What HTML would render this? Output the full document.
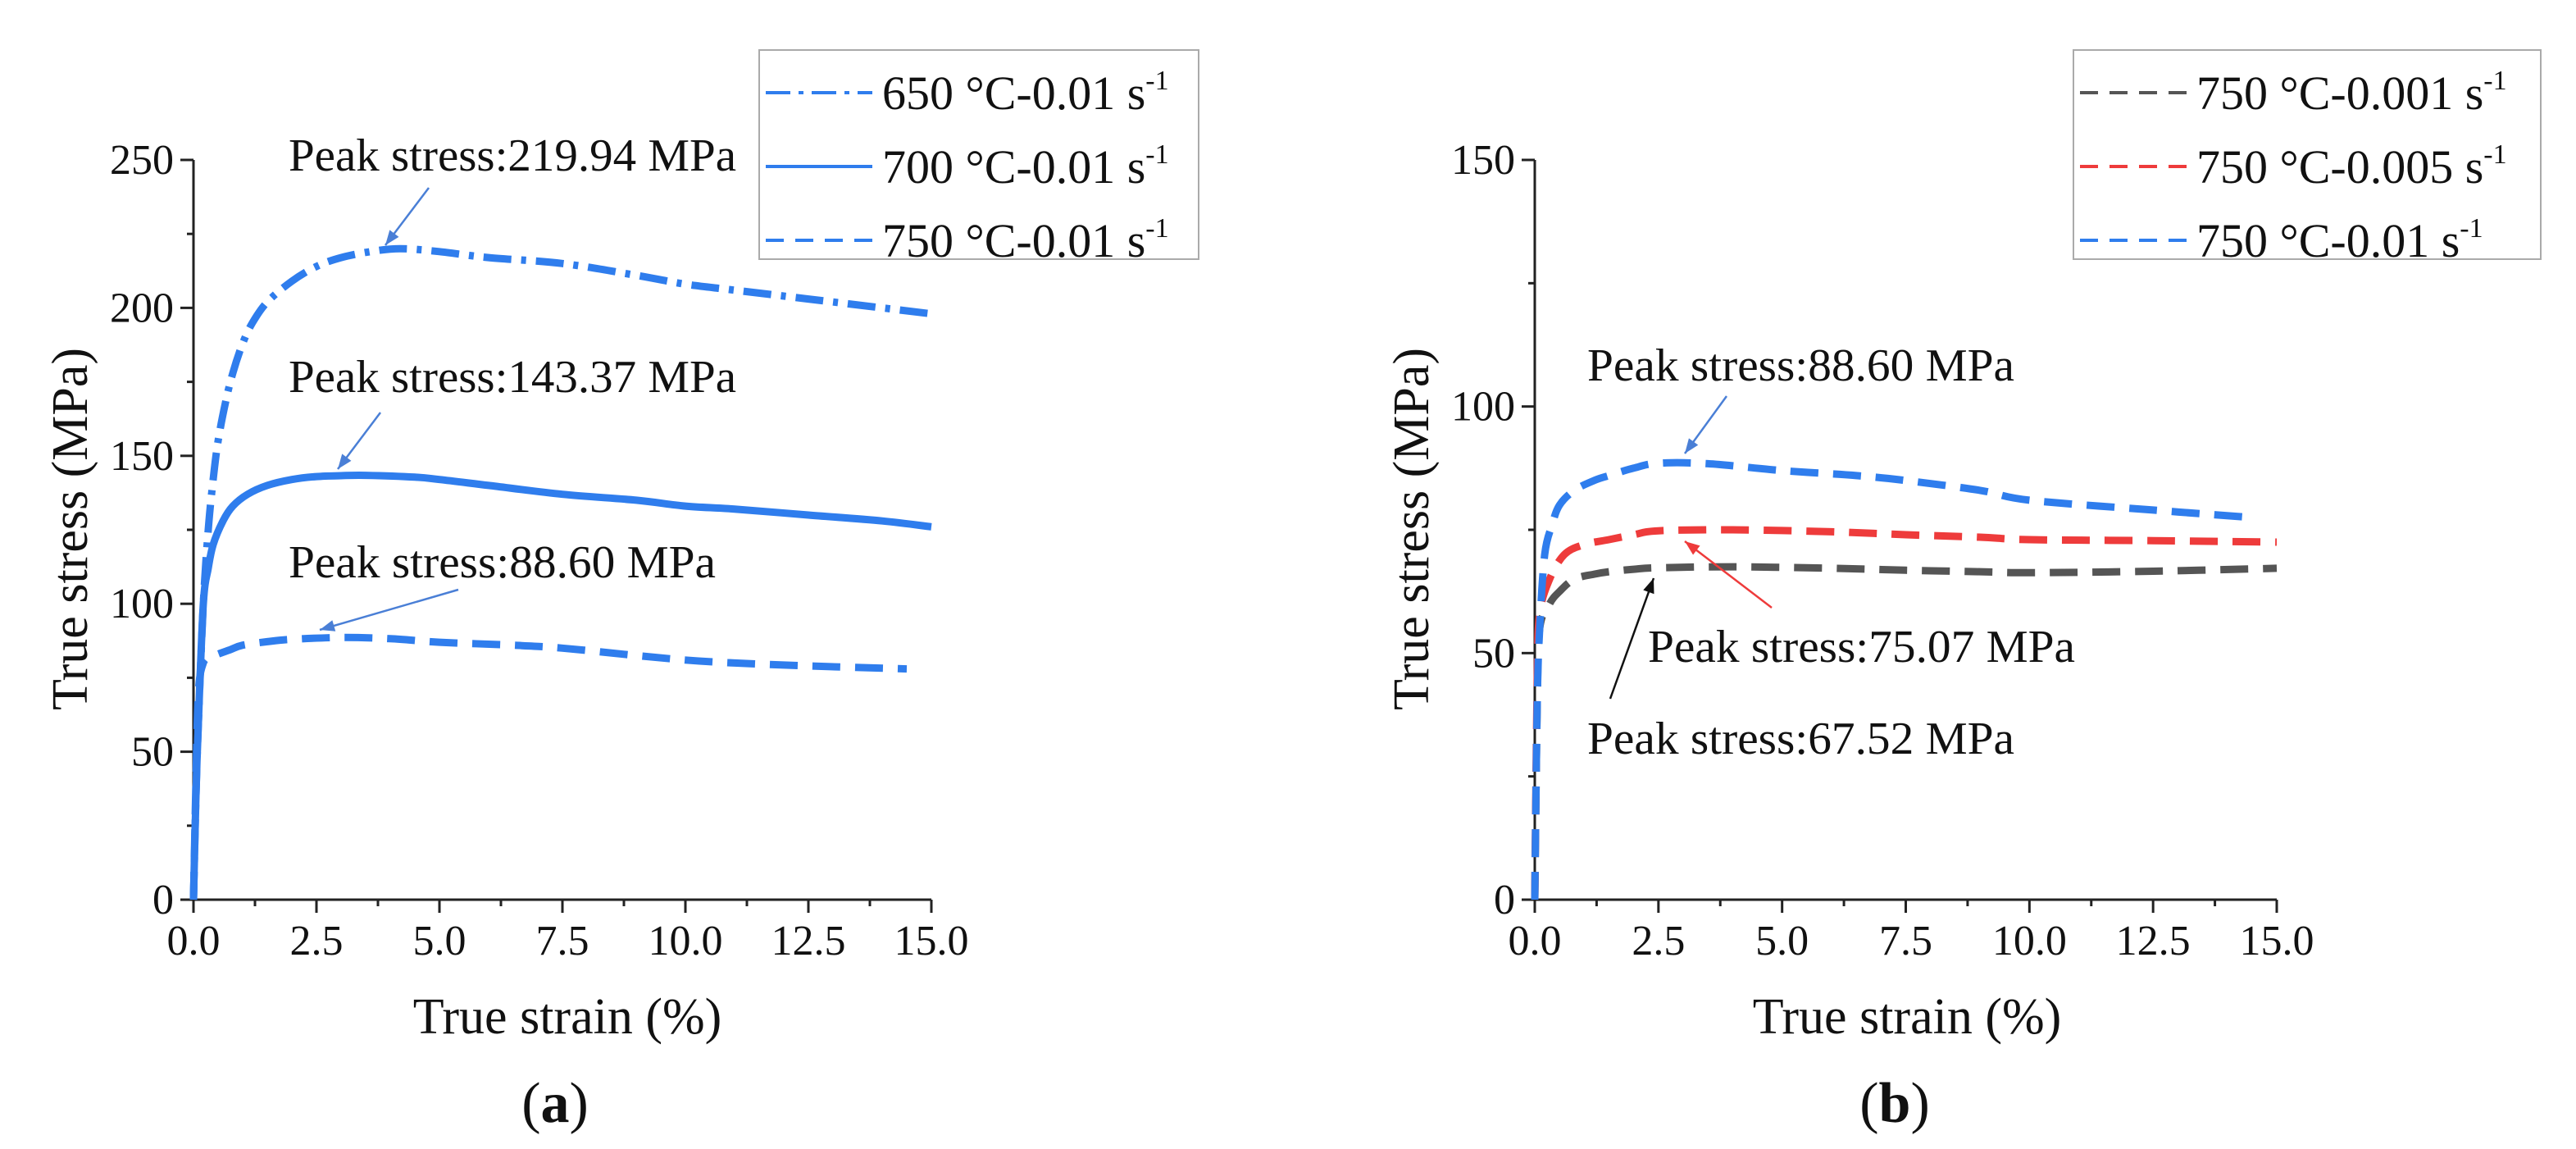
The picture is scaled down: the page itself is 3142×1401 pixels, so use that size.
<!DOCTYPE html>
<html><head><meta charset="utf-8"><style>
html,body{margin:0;padding:0;background:#fff;}
svg{display:block;}
text{font-family:"Liberation Serif","DejaVu Serif",serif;}
</style></head><body>
<svg id="fig" width="3142" height="1401" viewBox="0 0 3142 1401" xmlns="http://www.w3.org/2000/svg" font-family="Liberation Serif, serif">
<g id="pa"></g>
<g id="pb"></g>
</svg>
<script>
// ---- data: panel (a) ----
const strainA650 = [0,0.05,0.1,0.2,0.3,0.4,0.5,0.65,0.8,1,1.2,1.5,2,2.5,3,3.6,4.2,5,6,7.5,9,10,11,12.5,14,15];
const stressA650 = [0,35,60,100,125,142,155,168,178,188,195,202,209,214,217,219,220,219,217,215,211,208,206,203,200,198];
const strainA700 = [0,0.05,0.1,0.2,0.3,0.4,0.6,0.8,1.1,1.5,2,2.5,3,3.5,4.5,5,6,7.5,9,10,11,12.5,14,15];
const stressA700 = [0,35,60,100,112,120,128,133,137,140,142,143,143.3,143.4,142.8,142,140,137,135,133,132,130,128,126];
const strainA750 = [0,0.05,0.1,0.2,0.35,0.5,0.75,1,1.5,2,3,4,5,6.5,7.5,9,10,11,12.5,14.5];
const stressA750 = [0,40,70,80,82,83,84.5,86,87.2,88,88.6,88.2,87,86,85,82.5,81,80,79,78];
const yTicksA = [0,50,100,150,200,250];
// ---- data: panel (b) ----
const strainB001 = [0,0.05,0.1,0.3,0.5,0.8,1.2,1.5,2,2.5,4,6,7.5,9,10,12.5,15];
const stressB001 = [0,40,55,60,62.5,65,66,66.5,67,67.3,67.5,67.2,66.8,66.5,66.3,66.6,67.2];
const strainB005 = [0,0.05,0.1,0.3,0.6,1,1.5,2,2.5,4,6,7.5,9,10,12.5,15];
const stressB005 = [0,45,58,65,70,72,73,74,74.8,75,74.6,74,73.5,73,72.8,72.5];
const strainB01 = [0,0.05,0.1,0.2,0.35,0.5,0.8,1.2,1.5,2,2.5,3.5,5,6.5,7.5,9,10,12.5,14.5];
const stressB01 = [0,40,55,70,76,80,83,85,86,87.5,88.5,88.4,87,86,85,83,81,79,77.5];
const yTicksB = [0,50,100,150];
const xTicks = [0,2.5,5,7.5,10,12.5,15];
const xTickLabels = ["0.0","2.5","5.0","7.5","10.0","12.5","15.0"];

const NS="http://www.w3.org/2000/svg";
const FONT='"Liberation Serif", "DejaVu Serif", serif';
function mk(parent,tag,attrs,text){const e=document.createElementNS(NS,tag);for(const k in attrs)e.setAttribute(k,attrs[k]);if(tag==='text')e.setAttribute('font-family',FONT);if(text!==undefined)e.textContent=text;parent.appendChild(e);return e;}

function smoothPath(pts){
  let d='M'+pts[0][0].toFixed(1)+','+pts[0][1].toFixed(1);
  for(let i=0;i<pts.length-1;i++){
    const p0=pts[Math.max(0,i-1)],p1=pts[i],p2=pts[i+1],p3=pts[Math.min(pts.length-1,i+2)];
    const c1=[p1[0]+(p2[0]-p0[0])/6,p1[1]+(p2[1]-p0[1])/6];
    const c2=[p2[0]-(p3[0]-p1[0])/6,p2[1]-(p3[1]-p1[1])/6];
    d+=' C'+c1.map(v=>v.toFixed(1)).join(',')+' '+c2.map(v=>v.toFixed(1)).join(',')+' '+p2.map(v=>v.toFixed(1)).join(',');
  }
  return d;
}

function panel(g,x0,x1,y0,y1,ymax,yTicks){
  const sx=v=>x0+(v/15)*(x1-x0);
  const sy=v=>y0-(v/ymax)*(y0-y1);
  let e=mk(g,'line',{x1:x0,y1:y0,x2:x1,y2:y0,stroke:'#222','stroke-width':3});
  
  e=mk(g,'line',{x1:x0,y1:y0+1,x2:x0,y2:y1,stroke:'#222','stroke-width':3});
  
  xTicks.forEach((t,i)=>{
    const x=sx(t);
    e=mk(g,'line',{x1:x,y1:y0,x2:x,y2:y0+16,stroke:'#222','stroke-width':3});
    
    e=mk(g,'text',{x:x,y:1164,'font-size':52,'text-anchor':'middle',fill:'#111'},xTickLabels[i]);
    
    if(i<xTicks.length-1){const xm=sx(t+1.25);
      e=mk(g,'line',{x1:xm,y1:y0,x2:xm,y2:y0+8,stroke:'#222','stroke-width':3});
      }
  });
  yTicks.forEach((t,i)=>{
    const y=sy(t);
    e=mk(g,'line',{x1:x0-16,y1:y,x2:x0,y2:y,stroke:'#222','stroke-width':3});
    
    e=mk(g,'text',{x:x0-24,y:y+17,'font-size':52,'text-anchor':'end',fill:'#111'},String(t));
    
    if(i<yTicks.length-1){const ym=sy(t+25);
      e=mk(g,'line',{x1:x0-8,y1:ym,x2:x0,y2:ym,stroke:'#222','stroke-width':3});
      }
  });
  return {sx,sy};
}
function series(g,ax,xs,ys,color,dash,name){
  const pts=xs.map((x,i)=>[ax.sx(x),ax.sy(ys[i])]);
  const e=mk(g,'path',{d:smoothPath(pts),fill:'none',stroke:color,'stroke-width':9,'stroke-dasharray':dash,'stroke-linejoin':'round'});
  
}
function label(g,x,y,txt,name){
  const e=mk(g,'text',{x:x,y:y,'font-size':56,fill:'#111',textLength:Math.round(txt.length*24.8),lengthAdjust:'spacingAndGlyphs'},txt);
  
}
function arrow(g,x1,y1,x2,y2,color,name){
  const ang=Math.atan2(y2-y1,x2-x1),L=18,W=7;
  const e=mk(g,'line',{x1:x1,y1:y1,x2:x2,y2:y2,stroke:color,'stroke-width':2.5});
  
  const p=[[x2,y2],[x2-L*Math.cos(ang)+W*Math.sin(ang),y2-L*Math.sin(ang)-W*Math.cos(ang)],[x2-L*Math.cos(ang)-W*Math.sin(ang),y2-L*Math.sin(ang)+W*Math.cos(ang)]];
  const h=mk(g,'polygon',{points:p.map(q=>q.join(',')).join(' '),fill:color});
  
}
function legend(g,x,y,w,h,items){
  let e=mk(g,'rect',{x:x,y:y,width:w,height:h,fill:'#fff',stroke:'#aaa','stroke-width':2});
  
  items.forEach((it,i)=>{
    const cy=y+52+i*90;
    e=mk(g,'line',{x1:x+8,y1:cy,x2:x+138,y2:cy,stroke:it.c,'stroke-width':4,'stroke-dasharray':it.d});
    
    const t=mk(g,'text',{x:x+150,y:cy+20,'font-size':58,fill:'#111'});
    
    mk(t,'tspan',{},it.t);
    mk(t,'tspan',{dy:-24,'font-size':34},'-1');
  });
}
const BLUE='#2f7ded',RED='#ee3b3b',GRAY='#555';
const ga=document.getElementById('pa');
const ax=panel(ga,236,1136,1097,195,250,yTicksA);
series(ga,ax,strainA650,stressA650,BLUE,'34 12 6 12','series-650C');
series(ga,ax,strainA700,stressA700,BLUE,'none','series-700C');
series(ga,ax,strainA750,stressA750,BLUE,'34 18','series-750C');
label(ga,352,208,'Peak stress:219.94 MPa','peak-label-650');
label(ga,352,478,'Peak stress:143.37 MPa','peak-label-700');
label(ga,352,704,'Peak stress:88.60 MPa','peak-label-750');
arrow(ga,523,229,470,299,'#4a7fd6','peak-arrow-650');
arrow(ga,464,503,412,572,'#4a7fd6','peak-arrow-700');
arrow(ga,559,719,390,768,'#4a7fd6','peak-arrow-750');
legend(ga,926,61,536,255,[{t:'650 °C-0.01 s',c:BLUE,d:'30 10 6 10'},{t:'700 °C-0.01 s',c:BLUE,d:'none'},{t:'750 °C-0.01 s',c:BLUE,d:'22 14'}]);
let t=mk(ga,'text',{x:0,y:0,'font-size':62,'text-anchor':'middle',fill:'#111',transform:'translate(106,645) rotate(-90)'},'True stress (MPa)');

t=mk(ga,'text',{x:692,y:1260,'font-size':62,'text-anchor':'middle',fill:'#111'},'True strain (%)');

t=mk(ga,'text',{x:677,y:1368,'font-size':70,'text-anchor':'middle',fill:'#111'});

mk(t,'tspan',{},'(');mk(t,'tspan',{'font-weight':'bold'},'a');mk(t,'tspan',{},')');
const gb=document.getElementById('pb');
const bx=panel(gb,1872,2777,1097,195,150,yTicksB);
series(gb,bx,strainB001,stressB001,GRAY,'34 18','series-0.001');
series(gb,bx,strainB005,stressB005,RED,'34 18','series-0.005');
series(gb,bx,strainB01,stressB01,BLUE,'34 18','series-0.01');
label(gb,1936,464,'Peak stress:88.60 MPa','peak-label-0.01');
label(gb,2010,807,'Peak stress:75.07 MPa','peak-label-0.005');
label(gb,1936,919,'Peak stress:67.52 MPa','peak-label-0.001');
arrow(gb,2106,483,2055,553,'#4a7fd6','peak-arrow-0.01');
arrow(gb,2161,741,2055,660,RED,'peak-arrow-0.005');
arrow(gb,1964,852,2017,705,'#111','peak-arrow-0.001');
legend(gb,2529,61,570,255,[{t:'750 °C-0.001 s',c:GRAY,d:'22 14'},{t:'750 °C-0.005 s',c:RED,d:'22 14'},{t:'750 °C-0.01 s',c:BLUE,d:'22 14'}]);
t=mk(gb,'text',{x:0,y:0,'font-size':62,'text-anchor':'middle',fill:'#111',transform:'translate(1742,645) rotate(-90)'},'True stress (MPa)');

t=mk(gb,'text',{x:2326,y:1260,'font-size':62,'text-anchor':'middle',fill:'#111'},'True strain (%)');

t=mk(gb,'text',{x:2311,y:1368,'font-size':70,'text-anchor':'middle',fill:'#111'});

mk(t,'tspan',{},'(');mk(t,'tspan',{'font-weight':'bold'},'b');mk(t,'tspan',{},')');
</script>
</body></html>
